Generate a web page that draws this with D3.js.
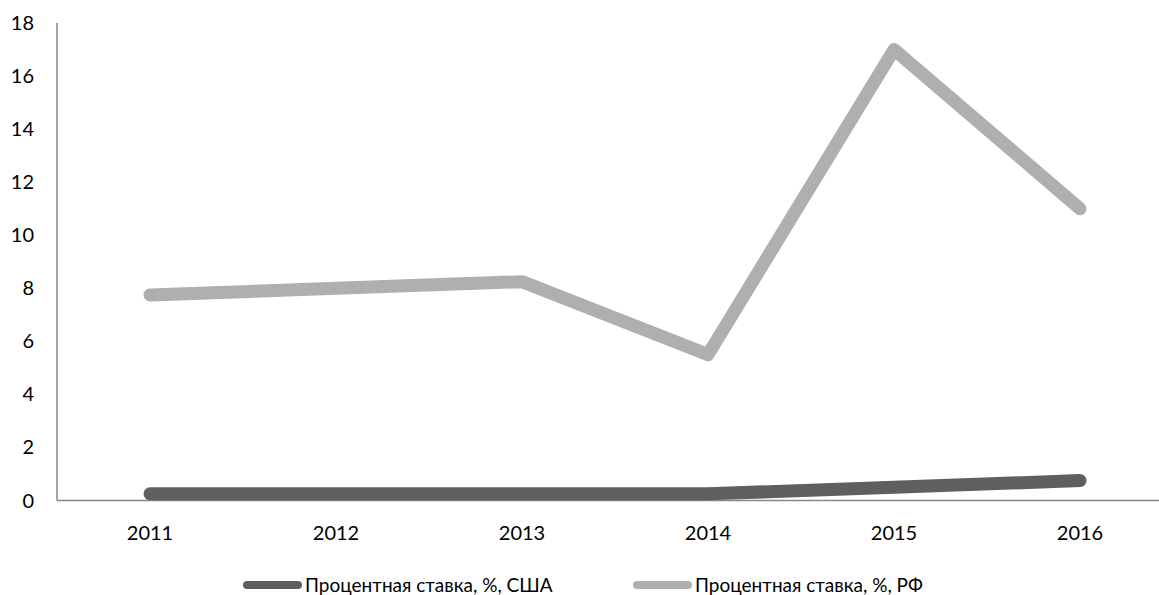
<!DOCTYPE html>
<html>
<head>
<meta charset="utf-8">
<script src="https://cdn.jsdelivr.net/npm/d3@7"></script>
<style>
  body { margin: 0; background: #fff; }
  text { font-family: Lato, "Open Sans", sans-serif; font-size: 20px; fill: #000; }
  .legend text { font-size: 19px; }
</style>
</head>
<body>
<div id="chart"></div>
<script>
// years on the x axis
var years = ["2011", "2012", "2013", "2014", "2015", "2016"];
// interest rates, %
var usaRate = [0.25, 0.25, 0.25, 0.25, 0.5, 0.75];
var rfRate = [7.75, 8.0, 8.25, 5.5, 17.0, 11.0];
var yTicks = [0, 2, 4, 6, 8, 10, 12, 14, 16, 18];
var seriesNames = ["Процентная ставка, %, США", "Процентная ставка, %, РФ"];
var seriesColors = ["#5f5f5f", "#afafaf"];

var width = 1159, height = 595;
var margin = {top: 23, left: 57, bottom: 95};

var svg = d3.select("#chart").append("svg")
    .attr("width", width)
    .attr("height", height);

// band scale for the categories, point at the middle of each band
var x = d3.scaleBand()
    .domain(years)
    .range([margin.left, margin.left + 6 * 186]);

var y = d3.scaleLinear()
    .domain([0, 18])
    .range([height - margin.bottom + 0.5, margin.top]);

// y axis labels and line
svg.append("g")
  .selectAll("text")
  .data(yTicks)
  .enter().append("text")
  .attr("x", 34)
  .attr("y", function (d) { return y(d); })
  .attr("dy", "0.35em")
  .attr("text-anchor", "end")
  .text(function (d) { return d; });

svg.append("line")
  .attr("x1", margin.left).attr("x2", margin.left)
  .attr("y1", y(18)).attr("y2", y(0))
  .attr("stroke", "#868686").attr("stroke-width", 1.5);

// x axis
svg.append("line")
  .attr("x1", margin.left).attr("x2", x.range()[1])
  .attr("y1", y(0)).attr("y2", y(0))
  .attr("stroke", "#868686").attr("stroke-width", 1.5);

svg.append("g")
  .selectAll("text")
  .data(years)
  .enter().append("text")
  .attr("x", function (d) { return x(d) + x.bandwidth() / 2; })
  .attr("y", y(0) + 32)
  .attr("dy", "0.35em")
  .attr("text-anchor", "middle")
  .text(function (d) { return d; });

// lines
var line = d3.line()
  .x(function (d, i) { return x(years[i]) + x.bandwidth() / 2; })
  .y(function (d) { return y(d); });

[usaRate, rfRate].forEach(function (vals, k) {
  svg.append("path")
    .datum(vals)
    .attr("d", line)
    .attr("fill", "none")
    .attr("stroke", seriesColors[k])
    .attr("stroke-width", 13)
    .attr("stroke-linecap", "round")
    .attr("stroke-linejoin", "round");
});

// legend
var legendX = [243, 633];
var legend = svg.append("g")
  .attr("class", "legend")
  .selectAll("g")
  .data(seriesNames)
  .enter().append("g")
  .attr("transform", function (d, i) { return "translate(" + legendX[i] + ",581)"; });

legend.append("line")
  .attr("x1", 4).attr("x2", 55)
  .attr("y1", 4).attr("y2", 4)
  .attr("stroke", function (d, i) { return seriesColors[i]; })
  .attr("stroke-width", 8)
  .attr("stroke-linecap", "round");

legend.append("text")
  .attr("x", 62)
  .attr("y", 4)
  .attr("dy", "0.35em")
  .text(function (d) { return d; });
</script>
</body>
</html>
